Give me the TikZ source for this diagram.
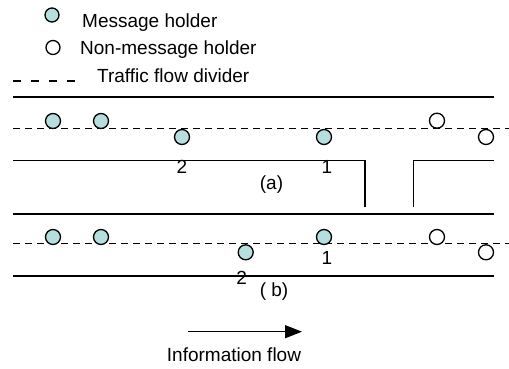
\documentclass[tikz,border=0pt]{standalone}
\usepackage{fontspec}
\setmainfont{Liberation Sans}
\usetikzlibrary{arrows.meta}
\definecolor{holder}{RGB}{183,222,222}
\begin{document}
\begin{tikzpicture}[x=1pt,y=-1pt,
  road/.style={line width=1.3pt},
  divider/.style={line width=1.1pt,dash pattern=on 7pt off 5pt},
  msg/.style={circle,draw,line width=1.3pt,fill=holder,minimum size=15pt,inner sep=0pt},
  nonmsg/.style={circle,draw,line width=1.3pt,fill=white,minimum size=15pt,inner sep=0pt},
  lbl/.style={inner sep=0pt,font=\fontsize{19}{22}\selectfont}]
\useasboundingbox (0,0) rectangle (509,369);
% legend
\node[msg,minimum size=14pt] (lm) at (52,15) {};
\node[lbl,anchor=base west] (lmt) at (82,28) {Message holder};
\node[nonmsg,minimum size=14pt] (ln) at (53,47.5) {};
\node[lbl,anchor=base west] (lnt) at (80,55) {Non-message holder};
\draw[line width=1.1pt,dash pattern=on 8pt off 10pt] (13,81) -- (79,81);
\node[lbl,anchor=base west] (ldt) at (97,83) {Traffic flow divider};
% road lines
\draw[road] (13,97) -- (494,97);
\draw[road] (13,160.7) -- (365,160.7) -- (365,207);
\draw[road] (413.3,207) -- (413.3,160.7) -- (494,160.7);
\draw[line width=2pt] (13,214) -- (494,214);
\draw[road] (13,276) -- (494,276);
\draw[divider] (13,128.5) -- (509,128.5);
\draw[divider] (13,243.5) -- (509,243.5);
% (a) row
\node[msg] (a1) at (53,121) {};
\node[msg] (a2) at (101,121) {};
\node[msg] (a3) at (182,137) {};
\node[msg] (a4) at (324,137) {};
\node[nonmsg] (a5) at (437,120.7) {};
\node[nonmsg] (a6) at (486,137) {};
\node[lbl] (a2l) at (182,166.5) {2};
\node[lbl] (a1l) at (327,166.5) {1};
\node[lbl] (al) at (271.5,185) {(a)};
% (b) row
\node[msg] (b1) at (53,237) {};
\node[msg] (b2) at (101,237) {};
\node[msg] (b3) at (245.7,252.3) {};
\node[msg] (b4) at (324,237) {};
\node[nonmsg] (b5) at (437,237) {};
\node[nonmsg] (b6) at (486,252.3) {};
\node[lbl] (b2l) at (241.7,278) {2};
\node[lbl] (b1l) at (327,258.3) {1};
\node[lbl] (bl) at (274,292) {( b)};
% information flow
\coordinate (fs) at (188,331.7);
\coordinate (fe) at (302,331.7);
\draw[line width=1.3pt,-{Triangle[length=17pt,width=13pt]}] (fs) -- (fe);
\node[lbl] (ft) at (234,354.5) {Information flow};
\end{tikzpicture}
\end{document}
